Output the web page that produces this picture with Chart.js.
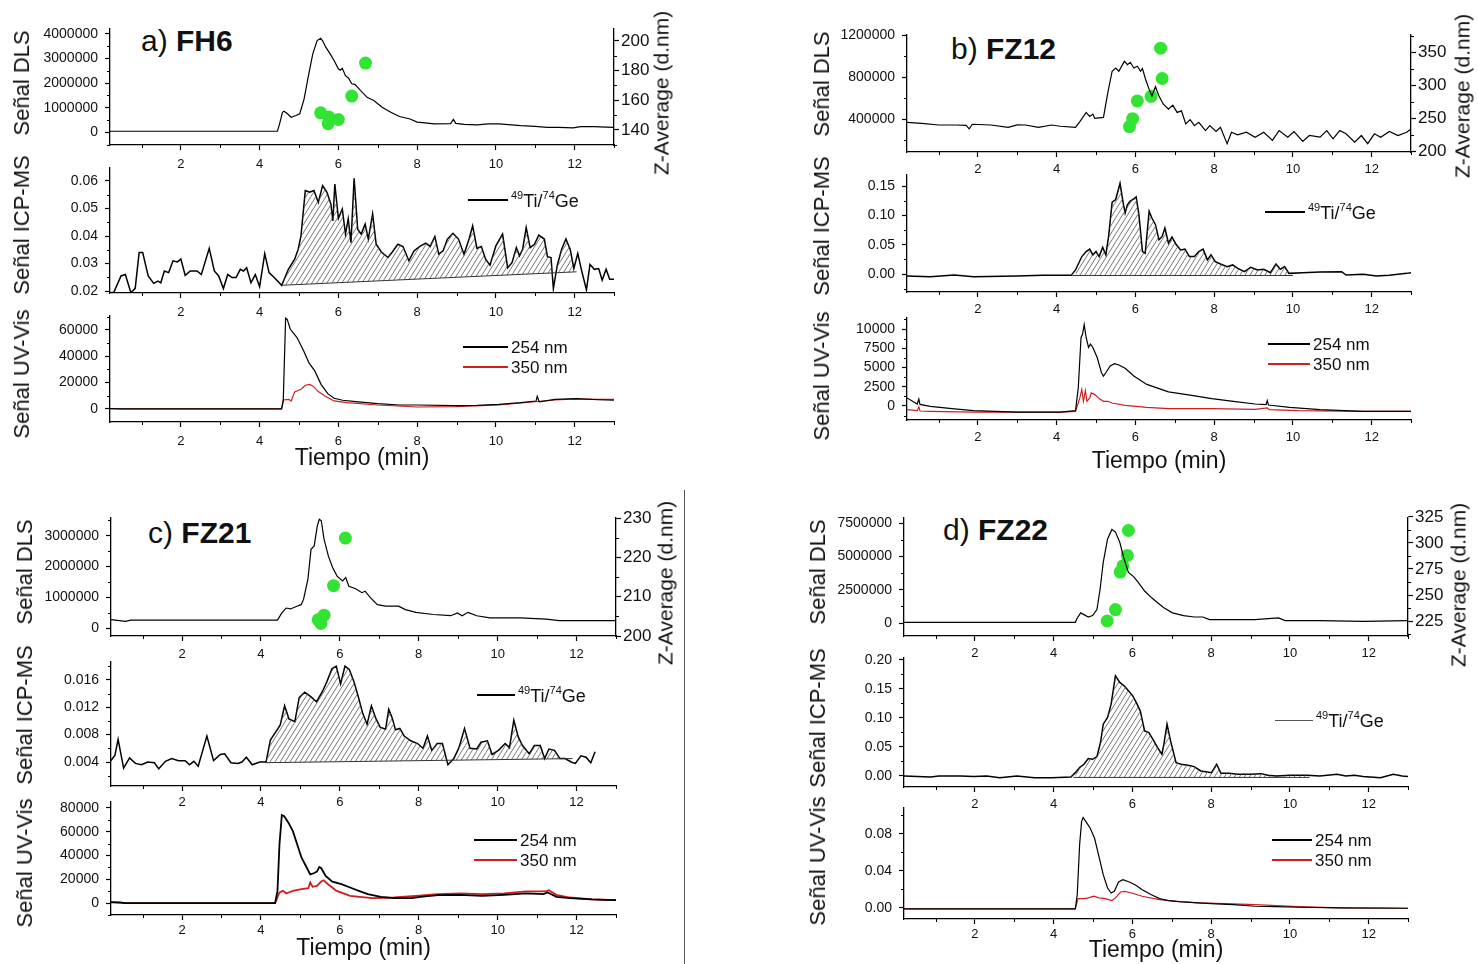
<!DOCTYPE html>
<html>
<head>
<meta charset="utf-8">
<script src="https://cdn.jsdelivr.net/npm/chart.js@4.4.1/dist/chart.umd.min.js"></script>
<style>
  body { margin: 0; width: 1478px; height: 964px; background: #fff; position: relative; overflow: hidden;
         font-family: "Liberation Sans", Arial, sans-serif; color: #111; }
  canvas { position: absolute; }
  .ttl { position: absolute; font-size: 30px; line-height: 1; white-space: nowrap; }
  .ttl b { font-weight: bold; }
  .rt { position: absolute; white-space: nowrap; line-height: 1; transform: translate(-50%, -50%) rotate(-90deg); }
  .lg { position: absolute; white-space: nowrap; font-size: 17px; line-height: 1; }
  .lg.icp { font-size: 18px; top: -1px; }
  .lg sup { font-size: 11px; position: relative; top: -2px; vertical-align: top; }
  .ln { position: absolute; }
</style>
</head>
<body>
<div class="ttl" style="left:141px;top:26px">a) <b>FH6</b></div>
<div class="ttl" style="left:951px;top:34px">b) <b>FZ12</b></div>
<div class="ttl" style="left:148px;top:518px">c) <b>FZ21</b></div>
<div class="ttl" style="left:943px;top:515px">d) <b>FZ22</b></div>
<div style="position:absolute;left:684px;top:490px;width:1px;height:474px;background:#555"></div>
<script>
const FONT = '"Liberation Sans", Arial, sans-serif';
Chart.defaults.font.family = FONT;
Chart.defaults.color = '#111';

// eje de tiempo, común a todas las gráficas
const xTickLabels = ['2', '4', '6', '8', '10', '12'];

// ---------- a) FH6 ----------
const fh6DlsTicks = ['0', '1000000', '2000000', '3000000', '4000000'];
const fh6ZTicks = ['140', '160', '180', '200'];
const fh6IcpTicks = ['0.02', '0.03', '0.04', '0.05', '0.06'];
const fh6UvTicks = ['0', '20000', '40000', '60000'];
const fh6Dls = [[0.2,40000],[4.45,40000],[4.5,300000],[4.58,810000],[4.62,850000],[4.7,760000],[4.8,610000],[4.92,680000],[5.02,750000],[5.13,1360000],[5.24,2300000],[5.35,3190000],[5.46,3730000],[5.55,3820000],[5.6,3720000],[5.68,3460000],[5.79,3190000],[5.89,2920000],[6.0,2580000],[6.05,2520000],[6.1,2600000],[6.18,2300000],[6.26,2200000],[6.34,1970000],[6.42,1950000],[6.56,1700000],[6.73,1420000],[6.9,1290000],[7.11,1020000],[7.33,810000],[7.55,640000],[7.82,540000],[8.0,410000],[8.2,380000],[8.43,340000],[8.85,350000],[8.92,520000],[8.98,360000],[9.2,320000],[9.53,300000],[9.8,340000],[10.08,340000],[10.4,300000],[10.63,270000],[11.0,240000],[11.3,200000],[11.6,200000],[11.96,180000],[12.15,230000],[12.5,230000],[12.8,210000],[13.0,200000]];
const fh6Zavg = [[5.55,151.5],[5.76,148.6],[5.74,144.2],[6.0,147],[6.34,162.8],[6.69,185]];
const fh6Icp = [[0.2,0.0194],[0.3,0.0196],[0.48,0.0255],[0.59,0.026],[0.73,0.0194],[0.84,0.021],[0.94,0.034],[1.03,0.034],[1.17,0.0255],[1.31,0.0228],[1.42,0.0236],[1.49,0.023],[1.58,0.0273],[1.69,0.0267],[1.8,0.031],[1.91,0.0306],[2.0,0.0316],[2.11,0.0257],[2.24,0.0273],[2.41,0.0273],[2.52,0.026],[2.72,0.0355],[2.85,0.0273],[2.96,0.0255],[3.08,0.0209],[3.19,0.026],[3.3,0.0249],[3.4,0.0249],[3.51,0.0279],[3.59,0.0273],[3.67,0.0285],[3.78,0.023],[3.89,0.026],[4.0,0.0216],[4.13,0.0336],[4.24,0.0267],[4.37,0.0249],[4.56,0.0221],[4.73,0.0279],[4.89,0.0316],[4.98,0.0352],[5.05,0.04],[5.16,0.0565],[5.27,0.0559],[5.38,0.0565],[5.49,0.0522],[5.6,0.0583],[5.71,0.0559],[5.81,0.0516],[5.86,0.0455],[5.91,0.0589],[6.0,0.0464],[6.1,0.0498],[6.18,0.0407],[6.25,0.0462],[6.32,0.0376],[6.4,0.061],[6.49,0.0425],[6.58,0.0407],[6.68,0.0443],[6.76,0.0389],[6.87,0.048],[6.96,0.037],[7.09,0.0342],[7.26,0.0322],[7.37,0.0342],[7.51,0.037],[7.64,0.0362],[7.79,0.031],[7.92,0.0346],[8.07,0.0362],[8.22,0.0374],[8.33,0.0362],[8.45,0.0398],[8.55,0.0334],[8.66,0.0346],[8.77,0.0389],[8.91,0.041],[9.05,0.0389],[9.19,0.0334],[9.32,0.0389],[9.41,0.0437],[9.52,0.0355],[9.63,0.0362],[9.74,0.0316],[9.85,0.0294],[10.0,0.0364],[10.17,0.0407],[10.3,0.0285],[10.41,0.0303],[10.52,0.0358],[10.6,0.0328],[10.68,0.0352],[10.77,0.0431],[10.87,0.0358],[10.98,0.037],[11.09,0.0403],[11.23,0.0389],[11.31,0.0325],[11.4,0.0322],[11.46,0.0209],[11.56,0.0294],[11.67,0.0352],[11.78,0.0389],[11.89,0.035],[11.98,0.0282],[12.08,0.0337],[12.17,0.0279],[12.3,0.0204],[12.39,0.0297],[12.5,0.0279],[12.61,0.0282],[12.7,0.024],[12.8,0.0279],[12.89,0.0243],[13.0,0.0243]];
const fh6IcpBase = [[4.56,0.0221],[12.05,0.027]];
const fh6Uv254 = [[0.2,300],[0.5,0],[4.56,0],[4.6,6000],[4.66,68900],[4.7,68000],[4.78,60500],[4.95,54200],[5.12,44000],[5.25,35200],[5.4,28900],[5.56,18700],[5.73,11600],[5.89,8100],[6.11,6600],[6.44,5600],[7.0,4000],[7.55,3000],[8.0,3000],[8.98,2500],[9.53,2800],[10.08,3500],[10.63,4800],[11.02,6000],[11.05,9600],[11.1,5500],[11.5,7300],[12.05,7800],[12.6,7000],[13.0,6600]];
const fh6Uv350 = [[0.2,300],[0.5,0],[4.55,0],[4.6,6800],[4.74,7300],[4.8,6000],[4.89,13000],[5.05,15000],[5.16,18000],[5.27,18700],[5.35,17500],[5.49,13200],[5.66,9900],[5.89,6100],[6.22,4800],[7.0,3000],[8.0,1500],[8.98,1800],[10.08,3000],[10.85,5100],[11.5,6800],[12.05,7600],[12.6,7300],[13.0,7300]];

// ---------- b) FZ12 ----------
const fz12DlsTicks = ['400000', '800000', '1200000'];
const fz12ZTicks = ['200', '250', '300', '350'];
const fz12IcpTicks = ['0.00', '0.05', '0.10', '0.15'];
const fz12UvTicks = ['0', '2500', '5000', '7500', '10000'];
const fz12Dls = [[0.2,369000],[0.57,359000],[1.01,343000],[1.45,343000],[1.7,340000],[1.78,306000],[1.86,350000],[2.33,343000],[2.77,321000],[3.0,345000],[3.21,343000],[3.54,321000],[3.87,343000],[4.09,331000],[4.48,321000],[4.59,375000],[4.75,463000],[4.84,425000],[4.92,447000],[4.97,406000],[5.19,416000],[5.3,651000],[5.41,855000],[5.5,886000],[5.58,855000],[5.72,949000],[5.8,918000],[5.87,940000],[5.96,886000],[6.05,902000],[6.13,855000],[6.18,880000],[6.26,776000],[6.35,682000],[6.42,620000],[6.51,707000],[6.6,620000],[6.71,541000],[6.84,494000],[6.95,532000],[7.06,463000],[7.17,478000],[7.28,353000],[7.39,394000],[7.5,337000],[7.61,369000],[7.78,290000],[7.89,337000],[8.05,281000],[8.16,321000],[8.33,165000],[8.44,274000],[8.6,249000],[8.82,274000],[9.04,227000],[9.26,274000],[9.48,196000],[9.65,290000],[9.87,227000],[10.03,281000],[10.25,187000],[10.42,243000],[10.69,227000],[10.86,290000],[11.02,212000],[11.19,290000],[11.35,259000],[11.57,180000],[11.74,243000],[11.9,165000],[12.07,259000],[12.23,227000],[12.45,281000],[12.67,243000],[12.89,274000],[13.0,306000]];
const fz12Zavg = [[5.85,237],[5.93,249],[6.05,276],[6.4,283],[6.68,310],[6.64,356]];
const fz12Icp = [[0.2,-0.0034],[0.79,-0.0046],[1.4,-0.0017],[1.89,-0.0046],[2.99,-0.0034],[3.65,-0.0023],[4.37,-0.0023],[4.48,0.0069],[4.64,0.0298],[4.75,0.0384],[4.84,0.0424],[4.92,0.0326],[5.0,0.0384],[5.08,0.0298],[5.17,0.0458],[5.25,0.0326],[5.32,0.0641],[5.41,0.1226],[5.5,0.1271],[5.61,0.1546],[5.69,0.1214],[5.74,0.1042],[5.8,0.1186],[5.87,0.1243],[5.96,0.1283],[6.02,0.1317],[6.09,0.1014],[6.18,0.0384],[6.25,0.0355],[6.35,0.1071],[6.42,0.0956],[6.51,0.0842],[6.6,0.0584],[6.68,0.0641],[6.75,0.0785],[6.84,0.0527],[6.93,0.063],[7.04,0.0498],[7.15,0.0412],[7.26,0.0424],[7.37,0.0298],[7.5,0.0298],[7.61,0.0384],[7.72,0.0424],[7.83,0.0241],[7.92,0.0326],[8.03,0.0212],[8.16,0.0172],[8.33,0.0126],[8.47,0.0155],[8.6,0.0097],[8.77,0.004],[8.93,0.0115],[9.1,0.0069],[9.26,0.008],[9.43,0.0023],[9.57,0.0172],[9.68,0.008],[9.79,0.0126],[9.9,0.0011],[10.25,0.0023],[10.69,0.0034],[11.24,0.004],[11.35,-0.0017],[11.79,-0.0006],[12.12,-0.0034],[12.45,-0.0023],[12.89,0.0011],[13.0,0.0023]];
const fz12IcpBase = [[4.4,-0.0025],[10.0,-0.0025]];
const fz12Uv254 = [[0.2,1050],[0.46,260],[0.5,900],[0.53,200],[0.79,-44],[1.34,-350],[1.89,-610],[2.99,-790],[4.09,-790],[4.48,-610],[4.55,2360],[4.62,8900],[4.66,9350],[4.7,10570],[4.75,8900],[4.81,7600],[4.86,8040],[4.92,7600],[5.03,6290],[5.14,4320],[5.19,3890],[5.25,4320],[5.36,5200],[5.47,5500],[5.58,5330],[5.74,4890],[5.96,3890],[6.29,2800],[6.84,1830],[7.39,1400],[7.94,960],[8.49,610],[9.04,260],[9.32,170],[9.35,700],[9.38,120],[9.92,-170],[10.69,-480],[11.79,-700],[13.0,-700]];
const fz12Uv350 = [[0.2,-480],[0.46,-600],[0.5,-100],[0.53,-650],[0.79,-700],[1.89,-790],[4.09,-790],[4.48,-700],[4.59,1050],[4.64,2140],[4.68,610],[4.73,2000],[4.77,610],[4.84,1050],[4.88,1700],[4.97,1480],[5.08,960],[5.19,610],[5.3,610],[5.41,390],[5.74,90],[6.29,-170],[6.84,-350],[7.94,-350],[9.04,-440],[9.35,-250],[9.4,-480],[10.14,-610],[11.79,-700],[13.0,-700]];

// ---------- c) FZ21 ----------
const fz21DlsTicks = ['0', '1000000', '2000000', '3000000'];
const fz21ZTicks = ['200', '210', '220', '230'];
const fz21IcpTicks = ['0.004', '0.008', '0.012', '0.016'];
const fz21UvTicks = ['0', '20000', '40000', '60000', '80000'];
const fz21Dls = [[0.2,273000],[0.57,218000],[0.7,255000],[4.42,255000],[4.53,490000],[4.64,650000],[4.75,620000],[4.91,710000],[5.02,760000],[5.08,930000],[5.19,1580000],[5.27,2560000],[5.35,2670000],[5.43,3330000],[5.48,3540000],[5.53,3490000],[5.6,2890000],[5.71,2340000],[5.82,1960000],[5.93,1690000],[6.07,1530000],[6.15,1640000],[6.23,1360000],[6.4,1280000],[6.56,1150000],[6.64,1200000],[6.78,980000],[6.95,760000],[7.16,710000],[7.49,710000],[7.66,600000],[7.93,510000],[8.37,440000],[8.81,400000],[8.98,490000],[9.1,400000],[9.25,510000],[9.47,400000],[9.8,330000],[10.57,330000],[11.23,290000],[11.56,240000],[13.0,240000]];
const fz21Zavg = [[5.45,204.1],[5.52,203.2],[5.6,205.3],[5.84,212.8],[6.14,224.9]];
const fz21Icp = [[0.2,0.0042],[0.3,0.005],[0.38,0.0073],[0.52,0.0031],[0.67,0.0046],[0.82,0.0038],[0.97,0.0036],[1.13,0.004],[1.3,0.0039],[1.41,0.003],[1.58,0.0041],[1.74,0.0045],[1.91,0.0042],[2.08,0.0042],[2.19,0.0036],[2.3,0.0041],[2.41,0.0034],[2.63,0.0078],[2.8,0.0042],[2.97,0.0051],[3.08,0.0052],[3.24,0.0039],[3.41,0.0038],[3.52,0.004],[3.63,0.0047],[3.78,0.0036],[3.97,0.004],[4.13,0.004],[4.24,0.0072],[4.41,0.0087],[4.49,0.0094],[4.6,0.0122],[4.71,0.0103],[4.86,0.0099],[4.97,0.0134],[5.11,0.0142],[5.27,0.0135],[5.41,0.0128],[5.56,0.0143],[5.67,0.0157],[5.8,0.0176],[5.91,0.018],[6.02,0.0154],[6.13,0.018],[6.24,0.0175],[6.36,0.0157],[6.47,0.0135],[6.58,0.0111],[6.69,0.0095],[6.8,0.0122],[6.91,0.0104],[7.02,0.0091],[7.16,0.0088],[7.24,0.0117],[7.33,0.0104],[7.41,0.0087],[7.52,0.0089],[7.63,0.0078],[7.8,0.0071],[7.97,0.0067],[8.11,0.006],[8.22,0.0078],[8.33,0.0057],[8.47,0.0067],[8.6,0.0067],[8.74,0.0036],[8.89,0.0045],[9.02,0.0061],[9.16,0.0089],[9.3,0.006],[9.47,0.0059],[9.58,0.0069],[9.74,0.0071],[9.86,0.0051],[10.02,0.0057],[10.19,0.0067],[10.3,0.0061],[10.41,0.0101],[10.52,0.0077],[10.63,0.0064],[10.8,0.0052],[10.93,0.0064],[11.08,0.0064],[11.19,0.0045],[11.3,0.0059],[11.44,0.0057],[11.58,0.0045],[11.71,0.0045],[11.86,0.004],[11.97,0.0038],[12.11,0.0049],[12.24,0.0047],[12.36,0.0039],[12.47,0.0055]];
const fz21IcpBase = [[4.1,0.0039],[11.9,0.0045]];
const fz21Uv254 = [[0.2,800],[0.44,560],[0.55,0],[4.36,0],[4.42,10300],[4.47,49300],[4.53,73900],[4.59,73000],[4.7,67400],[4.81,60500],[4.92,49300],[5.03,38200],[5.14,31200],[5.25,24200],[5.34,25100],[5.42,26500],[5.48,30400],[5.53,29300],[5.64,22900],[5.81,18100],[6.04,15900],[6.26,13100],[6.48,10300],[6.71,7500],[7.04,5300],[7.37,4200],[7.82,4200],[8.04,5300],[8.49,6700],[9.05,7000],[9.6,6100],[10.16,7000],[10.72,8100],[11.16,7500],[11.27,8900],[11.49,5300],[11.83,4200],[12.39,3100],[12.95,2500],[13.0,2500]];
const fz21Uv350 = [[0.2,560],[0.55,0],[4.36,0],[4.47,8900],[4.56,10300],[4.64,8100],[4.81,10300],[5.03,11700],[5.2,12500],[5.25,17300],[5.31,13700],[5.42,14500],[5.53,18100],[5.59,19200],[5.7,15900],[5.92,10300],[6.26,6100],[6.82,4200],[7.37,4700],[7.93,6100],[8.49,7500],[9.05,8100],[9.6,7500],[10.16,8100],[10.72,9800],[11.22,9800],[11.3,10900],[11.49,7000],[11.83,4700],[12.39,3100],[12.95,2500],[13.0,2500]];

// ---------- d) FZ22 ----------
const fz22DlsTicks = ['0', '2500000', '5000000', '7500000'];
const fz22ZTicks = ['225', '250', '275', '300', '325'];
const fz22IcpTicks = ['0.00', '0.05', '0.10', '0.15', '0.20'];
const fz22UvTicks = ['0.00', '0.04', '0.08'];
const fz22Dls = [[0.2,50000],[4.55,50000],[4.6,380000],[4.69,760000],[4.77,630000],[4.88,450000],[4.99,560000],[5.1,1010000],[5.18,2530000],[5.26,4550000],[5.37,6310000],[5.48,7020000],[5.57,6820000],[5.68,6060000],[5.79,4800000],[5.9,3790000],[6.03,3480000],[6.14,3080000],[6.31,2400000],[6.49,1890000],[6.64,1520000],[6.8,1140000],[7.02,760000],[7.3,560000],[7.57,450000],[7.79,450000],[7.96,250000],[8.56,250000],[9.11,250000],[9.71,380000],[9.88,180000],[10.76,180000],[11.86,130000],[13.0,180000]];
const fz22Zavg = [[5.9,312],[5.87,288],[5.76,278],[5.69,272],[5.57,236],[5.36,225]];
const fz22Icp = [[0.2,0],[0.87,-0.0017],[1.09,0],[1.64,0],[1.97,-0.001],[2.3,0],[2.63,-0.003],[3.07,0],[3.51,-0.003],[3.95,-0.003],[4.44,-0.0017],[4.55,0.0057],[4.66,0.0144],[4.77,0.0201],[4.88,0.0299],[4.99,0.0287],[5.1,0.0333],[5.19,0.0575],[5.26,0.0891],[5.37,0.1006],[5.46,0.1236],[5.57,0.1724],[5.68,0.1609],[5.79,0.1552],[5.9,0.1466],[6.01,0.1379],[6.12,0.1236],[6.2,0.1121],[6.31,0.0776],[6.42,0.0747],[6.53,0.0621],[6.64,0.0489],[6.75,0.0374],[6.8,0.0546],[6.88,0.0891],[6.97,0.0603],[7.11,0.023],[7.24,0.0201],[7.41,0.0184],[7.57,0.0161],[7.74,0.0086],[7.9,0.0069],[8.01,0.0057],[8.14,0.0201],[8.25,0.0046],[8.45,0.0046],[8.67,0.0029],[9.0,0.0029],[9.27,0.004],[9.44,0.0011],[9.66,0],[9.99,0.0011],[10.43,0.0011],[10.76,0],[11.2,0.0029],[11.42,0],[11.64,0.0011],[11.86,-0.001],[12.3,-0.003],[12.63,0.0029],[12.85,0],[13.0,-0.001]];
const fz22IcpBase = [[4.5,-0.0025],[10.5,-0.0025]];
const fz22Uv254 = [[0.2,-0.0011],[4.55,-0.0011],[4.6,0.0144],[4.66,0.0682],[4.71,0.0933],[4.75,0.0976],[4.82,0.0933],[4.93,0.0861],[5.04,0.0753],[5.15,0.0556],[5.26,0.0359],[5.37,0.0215],[5.46,0.0161],[5.54,0.0179],[5.65,0.028],[5.76,0.0305],[5.92,0.028],[6.09,0.0244],[6.25,0.0197],[6.47,0.0144],[6.69,0.01],[6.91,0.0079],[7.24,0.0065],[7.68,0.0054],[8.12,0.0043],[8.56,0.0036],[9.11,0.0018],[9.66,0.0014],[10.21,0.0007],[11.31,0],[13.0,-0.0004]];
const fz22Uv350 = [[0.2,-0.0011],[4.55,-0.0011],[4.62,0.01],[4.77,0.01],[4.88,0.0108],[5.02,0.0126],[5.15,0.0108],[5.32,0.01],[5.48,0.0079],[5.57,0.0108],[5.7,0.0172],[5.81,0.0179],[5.98,0.0161],[6.25,0.0126],[6.69,0.009],[7.13,0.0072],[7.68,0.0054],[8.12,0.005],[8.56,0.0043],[9.11,0.0036],[9.66,0.0025],[10.21,0.0014],[11.31,0],[13.0,-0.0004]];

// --- trama rayada para el área del pico ICP-MS ---
const hatch = (() => {
  const c = document.createElement('canvas');
  c.width = 5; c.height = 8;
  const g = c.getContext('2d');
  g.strokeStyle = '#555';
  g.lineWidth = 0.8;
  g.beginPath();
  [-5, 0, 5].forEach(o => { g.moveTo(o, 8); g.lineTo(o + 5, 0); });
  g.stroke();
  return g.createPattern(c, 'repeat');
})();

// marcas menores en los ejes (Chart.js solo dibuja las principales)
const minorTicks = {
  id: 'minorTicks',
  afterDraw(chart, args, opts) {
    const ctx = chart.ctx;
    ctx.save();
    ctx.strokeStyle = '#000';
    ctx.lineWidth = 1;
    ctx.beginPath();
    Object.keys(opts).forEach(id => {
      const s = chart.scales[id];
      if (!s) return;
      opts[id].forEach(v => {
        const p = Math.round(s.getPixelForValue(v)) + 0.5;
        if (s.isHorizontal()) { ctx.moveTo(p, s.top); ctx.lineTo(p, s.top + 3); }
        else if (s.position === 'left') { ctx.moveTo(s.right - 3, p); ctx.lineTo(s.right, p); }
        else { ctx.moveTo(s.left, p); ctx.lineTo(s.left + 3, p); }
      });
    });
    ctx.stroke();
    ctx.restore();
  }
};

function minorOf(labels, min, max) {
  const v = labels.map(Number);
  const step = v[1] - v[0];
  const out = [v[0] - step / 2, v[v.length - 1] + step / 2];
  for (let i = 0; i < v.length - 1; i++) out.push((v[i] + v[i + 1]) / 2);
  return out.filter(x => x >= min && x <= max);
}

const pts = arr => arr.map(p => ({ x: p[0], y: p[1] }));

function axisY(labels, min, max, width, size, pos) {
  return {
    type: 'linear', position: pos, min, max,
    afterFit: s => { s.width = width; },
    afterBuildTicks: s => { s.ticks = labels.map(v => ({ value: Number(v) })); },
    ticks: { font: { size }, color: '#111', padding: pos === 'left' ? 7 : 2, callback: (v, i) => labels[i] },
    grid: { drawOnChartArea: false, tickLength: 5, color: '#000', tickWidth: 1.2 },
    border: { color: '#000', width: 1.3 }
  };
}

// rótulo girado (títulos de los ejes verticales)
function vLabel(text, cx, cy, size) {
  const d = document.createElement('div');
  d.className = 'rt';
  d.style.left = cx + 'px';
  d.style.top = cy + 'px';
  d.style.fontSize = size + 'px';
  d.textContent = text;
  document.body.appendChild(d);
}

function addChart(p) {
  const [bx, by, bw, bh] = p.box;
  const [l, t, r, b] = p.area;
  const cv = document.createElement('canvas');
  cv.width = bw; cv.height = bh;
  cv.style.left = bx + 'px';
  cv.style.top = by + 'px';
  document.body.appendChild(cv);

  const rightW = bx + bw - r;
  const scales = {
    x: {
      type: 'linear', min: 0.2, max: 13,
      afterFit: s => { s.height = p.xh; },
      afterBuildTicks: s => { s.ticks = xTickLabels.map(v => ({ value: Number(v) })); },
      ticks: { font: { size: 13 }, color: '#111', padding: p.xPad, maxRotation: 0, callback: (v, i) => xTickLabels[i] },
      grid: { drawOnChartArea: false, tickLength: 5, color: '#000', tickWidth: 1.2 },
      border: { color: '#000', width: 1.3 },
      title: { display: !!p.xTitle, text: 'Tiempo (min)', font: { size: 23 }, color: '#111', padding: 0 }
    },
    y: axisY(p.yTicks, p.yMin, p.yMax, l - bx, 14, 'left')
  };
  const minor = { x: minorOf(xTickLabels, 0.2, 13), y: minorOf(p.yTicks, p.yMin, p.yMax) };
  if (p.zTicks) {
    scales.y2 = axisY(p.zTicks, p.zMin, p.zMax, rightW, 17, 'right');
    minor.y2 = minorOf(p.zTicks, p.zMin, p.zMax);
  }

  const line = (data, color, width) => ({
    type: 'line', data: pts(data), borderColor: color, borderWidth: width,
    pointRadius: 0, tension: 0, fill: false, yAxisID: 'y'
  });
  const datasets = [];
  if (p.base) {
    const [x0, x1] = [p.base[0][0], p.base[1][0]];
    datasets.push(line(p.base, '#333', 1));
    const area = line(p.series[0].data.filter(q => q[0] >= x0 && q[0] <= x1), 'rgba(0,0,0,0)', 0);
    area.fill = '-1';
    area.backgroundColor = hatch;
    datasets.push(area);
  }
  p.series.forEach(s => datasets.push(line(s.data, s.color, s.width)));
  if (p.zavg) {
    datasets.push({
      type: 'scatter', data: pts(p.zavg), yAxisID: 'y2', showLine: false,
      backgroundColor: '#33e333', borderWidth: 0, pointRadius: 6.5
    });
  }

  new Chart(cv, {
    type: 'line',
    data: { datasets },
    options: {
      responsive: false, animation: false, events: [],
      layout: { padding: { left: 0, top: t - by, right: p.zTicks ? 0 : rightW, bottom: by + bh - b - p.xh } },
      scales,
      plugins: { legend: { display: false }, tooltip: { enabled: false }, minorTicks: minor }
    },
    plugins: [minorTicks]
  });

  vLabel(p.yTitle, p.yTitlePos[0], p.yTitlePos[1], 22);
  if (p.zTitlePos) vLabel('Z-Average (d.nm)', p.zTitlePos[0], p.zTitlePos[1], 21);
}

const K = '#000', R = '#d01e1e';
const charts = [
  // a) FH6
  { box: [0, 0, 690, 173], area: [110, 29, 614, 145], xh: 28, xPad: 7, yTitle: 'Señal DLS', yTitlePos: [22, 83], zTitlePos: [661, 93],
    yTicks: fh6DlsTicks, yMin: -520000, yMax: 4200000, zTicks: fh6ZTicks, zMin: 129.8, zMax: 208,
    series: [{ data: fh6Dls, color: K, width: 1.2 }], zavg: fh6Zavg },
  { box: [0, 150, 690, 171], area: [110, 168, 614, 293], xh: 28, xPad: 7, yTitle: 'Señal ICP-MS', yTitlePos: [22, 225],
    yTicks: fh6IcpTicks, yMin: 0.0193, yMax: 0.0647, base: fh6IcpBase,
    series: [{ data: fh6Icp, color: K, width: 1.5 }] },
  { box: [0, 298, 690, 174], area: [110, 316, 614, 422], xh: 50, xPad: 7, yTitle: 'Señal UV-Vis', yTitlePos: [22, 374], xTitle: true,
    yTicks: fh6UvTicks, yMin: -9900, yMax: 70600,
    series: [{ data: fh6Uv254, color: K, width: 1.2 }, { data: fh6Uv350, color: R, width: 1.2 }] },
  // b) FZ12
  { box: [800, 0, 678, 180], area: [907, 35, 1411, 152], xh: 28, xPad: 5, yTitle: 'Señal DLS', yTitlePos: [822, 84], zTitlePos: [1462, 96],
    yTicks: fz12DlsTicks, yMin: 86000, yMax: 1200000, zTicks: fz12ZTicks, zMin: 198.5, zMax: 376,
    series: [{ data: fz12Dls, color: K, width: 1.2 }], zavg: fz12Zavg },
  { box: [800, 155, 678, 165], area: [907, 175, 1411, 292], xh: 28, xPad: 5, yTitle: 'Señal ICP-MS', yTitlePos: [822, 226],
    yTicks: fz12IcpTicks, yMin: -0.0307, yMax: 0.169, base: fz12IcpBase,
    series: [{ data: fz12Icp, color: K, width: 1.5 }] },
  { box: [800, 300, 678, 175], area: [907, 318, 1411, 420], xh: 55, xPad: 5, yTitle: 'Señal UV-Vis', yTitlePos: [822, 376], xTitle: true,
    yTicks: fz12UvTicks, yMin: -1820, yMax: 11430,
    series: [{ data: fz12Uv254, color: K, width: 1.2 }, { data: fz12Uv350, color: R, width: 1.2 }] },
  // c) FZ21
  { box: [0, 490, 700, 174], area: [111, 518, 616, 636], xh: 28, xPad: 6, yTitle: 'Señal DLS', yTitlePos: [25, 572], zTitlePos: [665, 583],
    yTicks: fz21DlsTicks, yMin: -260000, yMax: 3580000, zTicks: fz21ZTicks, zMin: 200, zMax: 230,
    series: [{ data: fz21Dls, color: K, width: 1.2 }], zavg: fz21Zavg },
  { box: [0, 642, 700, 172], area: [111, 662, 616, 786], xh: 28, xPad: 4, yTitle: 'Señal ICP-MS', yTitlePos: [25, 715],
    yTicks: fz21IcpTicks, yMin: 0.0005, yMax: 0.0186, base: fz21IcpBase,
    series: [{ data: fz21Icp, color: K, width: 1.5 }] },
  { box: [0, 784, 700, 176], area: [111, 802, 616, 915], xh: 47, xPad: 3, yTitle: 'Señal UV-Vis', yTitlePos: [25, 863], xTitle: true,
    yTicks: fz21UvTicks, yMin: -10000, yMax: 85000,
    series: [{ data: fz21Uv254, color: K, width: 1.8 }, { data: fz21Uv350, color: R, width: 1.8 }] },
  // d) FZ22
  { box: [800, 490, 678, 174], area: [904, 518, 1408, 636], xh: 28, xPad: 5, yTitle: 'Señal DLS', yTitlePos: [818, 572], zTitlePos: [1458, 585],
    yTicks: fz22DlsTicks, yMin: -975000, yMax: 7880000, zTicks: fz22ZTicks, zMin: 210.6, zMax: 324,
    series: [{ data: fz22Dls, color: K, width: 1.2 }], zavg: fz22Zavg },
  { box: [800, 640, 678, 175], area: [904, 658, 1408, 787], xh: 28, xPad: 5, yTitle: 'Señal ICP-MS', yTitlePos: [818, 718],
    yTicks: fz22IcpTicks, yMin: -0.019, yMax: 0.203, base: fz22IcpBase,
    series: [{ data: fz22Icp, color: K, width: 1.5 }] },
  { box: [800, 790, 678, 174], area: [904, 808, 1408, 919], xh: 45, xPad: 3, yTitle: 'Señal UV-Vis', yTitlePos: [818, 861], xTitle: true,
    yTicks: fz22UvTicks, yMin: -0.012, yMax: 0.108,
    series: [{ data: fz22Uv254, color: K, width: 1.2 }, { data: fz22Uv350, color: R, width: 1.2 }] }
];
charts.forEach(addChart);

// leyendas: trazo + texto
const ICP_LABEL = '<sup>49</sup>Ti/<sup>74</sup>Ge';
const legends = [
  [468, 508, 200, K, 1.5, ICP_LABEL], [463, 508, 347, K, 1.5, '254 nm'], [463, 508, 367, R, 1.5, '350 nm'],
  [1265, 1305, 212, K, 1.5, ICP_LABEL], [1268, 1310, 344, K, 1.5, '254 nm'], [1268, 1310, 364, R, 1.5, '350 nm'],
  [477, 515, 695, K, 1.5, ICP_LABEL], [474, 517, 840, K, 2, '254 nm'], [474, 517, 860, R, 2, '350 nm'],
  [1275, 1313, 720, '#555', 1, ICP_LABEL], [1272, 1312, 840, K, 1.5, '254 nm'], [1272, 1312, 860, R, 1.5, '350 nm']
];
legends.forEach(([x0, x1, y, color, w, html]) => {
  const ln = document.createElement('div');
  ln.className = 'ln';
  ln.style.cssText = `left:${x0}px;top:${Math.round(y - w / 2)}px;width:${x1 - x0}px;height:${Math.max(1, Math.round(w))}px;background:${color}`;
  document.body.appendChild(ln);
  const tx = document.createElement('div');
  tx.className = html === ICP_LABEL ? 'lg icp' : 'lg';
  tx.style.left = (x1 + 3) + 'px';
  tx.style.top = (y - 8) + 'px';
  tx.innerHTML = html;
  document.body.appendChild(tx);
});
</script>
</body>
</html>
